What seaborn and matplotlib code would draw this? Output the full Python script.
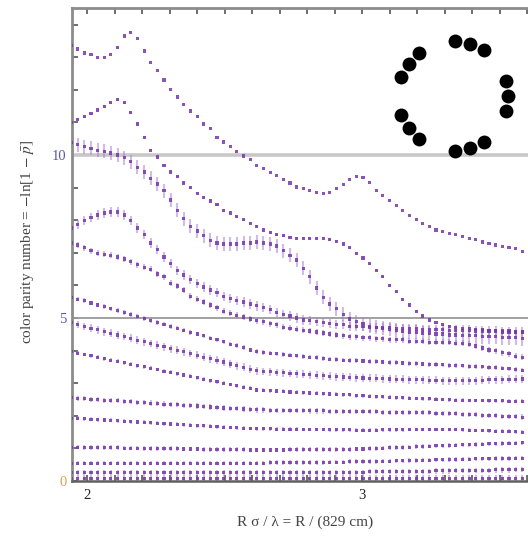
import numpy as np
import pandas as pd
import matplotlib
matplotlib.use("Agg")
import matplotlib.pyplot as plt
from matplotlib.ticker import MultipleLocator
import seaborn as sns

# ---------------- data ----------------
R_cm = np.arange(1610, 2990, 20)          # sampling radii (cm)
x_vals = R_cm / 829.0                      # R sigma / lambda

A = [13.37, 13.25, 13.13, 13.07, 13.00, 13.00, 13.07, 13.31, 13.65, 13.77, 13.56, 13.19, 12.85, 12.58, 12.30, 12.02, 11.78, 11.56, 11.35, 11.17,
     10.95, 10.80, 10.55, 10.40, 10.27, 10.10, 9.97, 9.85, 9.69, 9.58, 9.47, 9.36, 9.25, 9.14, 9.02, 8.96, 8.90, 8.84, 8.83, 8.86,
     8.97, 9.10, 9.24, 9.33, 9.30, 9.15, 8.92, 8.75, 8.60, 8.45, 8.30, 8.15, 8.02, 7.90, 7.80, 7.70, 7.64, 7.60, 7.55, 7.50,
     7.45, 7.40, 7.33, 7.29, 7.24, 7.20, 7.17, 7.12, 7.05]
B = [11.01, 11.10, 11.17, 11.26, 11.38, 11.50, 11.60, 11.69, 11.60, 11.29, 10.95, 10.55, 10.15, 9.94, 9.69, 9.48, 9.33, 9.14, 8.99, 8.83,
     8.71, 8.59, 8.47, 8.31, 8.22, 8.10, 8.01, 7.91, 7.82, 7.70, 7.61, 7.55, 7.52, 7.48, 7.45, 7.45, 7.45, 7.45, 7.45, 7.42,
     7.36, 7.27, 7.15, 6.99, 6.84, 6.66, 6.47, 6.26, 6.01, 5.80, 5.58, 5.40, 5.21, 5.06, 4.94, 4.85, 4.79, 4.75, 4.72, 4.69,
     4.69, 4.66, 4.66, 4.63, 4.63, 4.60, 4.60, 4.57, 4.57]
C = [10.37, 10.31, 10.25, 10.21, 10.15, 10.12, 10.06, 10.00, 9.91, 9.79, 9.63, 9.48, 9.29, 9.11, 8.90, 8.62, 8.31, 8.04, 7.82, 7.67,
     7.52, 7.39, 7.30, 7.27, 7.27, 7.27, 7.30, 7.30, 7.33, 7.30, 7.27, 7.21, 7.06, 6.93, 6.78, 6.53, 6.26, 5.92, 5.64, 5.43,
     5.28, 5.12, 4.97, 4.88, 4.82, 4.75, 4.72, 4.69, 4.66, 4.63, 4.60, 4.57, 4.57, 4.54, 4.54, 4.51, 4.51, 4.48, 4.48, 4.45,
     4.45, 4.45, 4.42, 4.42, 4.42, 4.39, 4.39, 4.39, 4.36]
D = [7.76, 7.88, 7.98, 8.07, 8.16, 8.22, 8.25, 8.25, 8.16, 7.98, 7.76, 7.55, 7.30, 7.09, 6.87, 6.66, 6.47, 6.32, 6.17, 6.07,
     5.95, 5.86, 5.77, 5.67, 5.61, 5.55, 5.49, 5.43, 5.37, 5.31, 5.25, 5.18, 5.12, 5.06, 5.00, 4.94, 4.91, 4.88, 4.85, 4.82,
     4.79, 4.79, 4.75, 4.75, 4.75, 4.72, 4.72, 4.72, 4.72, 4.69, 4.69, 4.69, 4.69, 4.66, 4.66, 4.66, 4.66, 4.63, 4.63, 4.63,
     4.63, 4.60, 4.60, 4.60, 4.60, 4.57, 4.57, 4.57, 4.57]
E = [7.30, 7.24, 7.15, 7.06, 6.99, 6.96, 6.93, 6.87, 6.81, 6.72, 6.63, 6.56, 6.50, 6.35, 6.26, 6.07, 5.98, 5.86, 5.67, 5.58,
     5.49, 5.40, 5.31, 5.21, 5.15, 5.09, 5.03, 4.97, 4.91, 4.88, 4.82, 4.79, 4.72, 4.69, 4.66, 4.63, 4.60, 4.57, 4.54, 4.51,
     4.48, 4.45, 4.42, 4.42, 4.39, 4.39, 4.36, 4.36, 4.33, 4.33, 4.33, 4.29, 4.29, 4.29, 4.26, 4.26, 4.26, 4.26, 4.23, 4.23,
     4.20, 4.14, 4.08, 4.02, 3.99, 3.93, 3.90, 3.83, 3.80]
F = [5.64, 5.58, 5.53, 5.46, 5.40, 5.35, 5.28, 5.23, 5.17, 5.10, 5.05, 4.99, 4.92, 4.87, 4.81, 4.74, 4.69, 4.63, 4.56, 4.51,
     4.45, 4.38, 4.33, 4.27, 4.20, 4.15, 4.09, 4.02, 3.97, 3.94, 3.92, 3.90, 3.88, 3.86, 3.84, 3.82, 3.80, 3.78, 3.76, 3.74,
     3.72, 3.71, 3.70, 3.69, 3.68, 3.67, 3.66, 3.65, 3.64, 3.63, 3.62, 3.61, 3.60, 3.59, 3.58, 3.57, 3.56, 3.55, 3.54, 3.53,
     3.52, 3.51, 3.50, 3.49, 3.48, 3.46, 3.44, 3.42, 3.40]
G = [4.85, 4.80, 4.74, 4.69, 4.64, 4.58, 4.53, 4.48, 4.43, 4.38, 4.32, 4.27, 4.22, 4.17, 4.12, 4.06, 4.01, 3.96, 3.91, 3.86,
     3.80, 3.75, 3.70, 3.65, 3.59, 3.54, 3.49, 3.43, 3.38, 3.36, 3.35, 3.33, 3.32, 3.30, 3.29, 3.27, 3.26, 3.24, 3.23, 3.21,
     3.20, 3.19, 3.18, 3.17, 3.16, 3.15, 3.15, 3.14, 3.13, 3.12, 3.12, 3.11, 3.10, 3.10, 3.09, 3.09, 3.08, 3.08, 3.07, 3.07,
     3.08, 3.08, 3.09, 3.10, 3.10, 3.11, 3.12, 3.12, 3.13]
H = [3.96, 3.92, 3.88, 3.84, 3.79, 3.75, 3.71, 3.67, 3.63, 3.58, 3.54, 3.50, 3.46, 3.42, 3.37, 3.33, 3.29, 3.25, 3.21, 3.17,
     3.12, 3.08, 3.04, 3.00, 2.96, 2.92, 2.88, 2.84, 2.79, 2.78, 2.77, 2.76, 2.75, 2.73, 2.72, 2.71, 2.70, 2.69, 2.68, 2.67,
     2.66, 2.65, 2.64, 2.62, 2.61, 2.60, 2.59, 2.58, 2.57, 2.56, 2.55, 2.54, 2.53, 2.52, 2.52, 2.51, 2.50, 2.49, 2.48, 2.48,
     2.47, 2.47, 2.47, 2.46, 2.46, 2.46, 2.45, 2.45, 2.45]
I = [2.55, 2.54, 2.52, 2.51, 2.50, 2.48, 2.47, 2.46, 2.44, 2.43, 2.42, 2.40, 2.39, 2.38, 2.36, 2.35, 2.34, 2.32, 2.31, 2.30,
     2.28, 2.27, 2.26, 2.24, 2.23, 2.22, 2.21, 2.19, 2.18, 2.18, 2.17, 2.17, 2.17, 2.16, 2.16, 2.16, 2.15, 2.15, 2.15, 2.14,
     2.14, 2.14, 2.13, 2.13, 2.12, 2.12, 2.12, 2.11, 2.11, 2.11, 2.10, 2.10, 2.10, 2.09, 2.09, 2.08, 2.08, 2.07, 2.06, 2.05,
     2.04, 2.03, 2.02, 2.01, 2.00, 1.99, 1.98, 1.97, 1.96]
J = [1.93, 1.92, 1.91, 1.89, 1.88, 1.87, 1.86, 1.85, 1.83, 1.82, 1.81, 1.80, 1.79, 1.77, 1.76, 1.75, 1.74, 1.73, 1.71, 1.70,
     1.69, 1.68, 1.67, 1.65, 1.64, 1.63, 1.62, 1.61, 1.60, 1.60, 1.60, 1.59, 1.59, 1.59, 1.59, 1.58, 1.58, 1.58, 1.58, 1.57,
     1.57, 1.57, 1.57, 1.56, 1.56, 1.56, 1.56, 1.57, 1.57, 1.57, 1.57, 1.58, 1.58, 1.58, 1.58, 1.58, 1.58, 1.58, 1.58, 1.57,
     1.56, 1.55, 1.55, 1.54, 1.53, 1.52, 1.52, 1.51, 1.50]
K = [1.04, 1.04, 1.03, 1.03, 1.03, 1.02, 1.02, 1.02, 1.01, 1.01, 1.01, 1.00, 1.00, 1.00, 0.99, 0.99, 0.99, 0.98, 0.98, 0.98,
     0.97, 0.97, 0.97, 0.96, 0.96, 0.96, 0.96, 0.95, 0.95, 0.95, 0.95, 0.95, 0.95, 0.96, 0.96, 0.96, 0.96, 0.96, 0.97, 0.97,
     0.97, 0.97, 0.97, 0.98, 0.98, 0.99, 1.00, 1.01, 1.02, 1.03, 1.03, 1.04, 1.05, 1.06, 1.07, 1.08, 1.08, 1.09, 1.10, 1.11,
     1.11, 1.12, 1.13, 1.14, 1.14, 1.15, 1.16, 1.16, 1.17]
L = [0.55, 0.55, 0.55, 0.55, 0.55, 0.55, 0.55, 0.55, 0.55, 0.55, 0.55, 0.55, 0.55, 0.55, 0.55, 0.55, 0.55, 0.55, 0.55, 0.55,
     0.55, 0.55, 0.55, 0.55, 0.55, 0.55, 0.55, 0.55, 0.55, 0.55, 0.56, 0.56, 0.56, 0.56, 0.56, 0.57, 0.57, 0.57, 0.57, 0.58,
     0.58, 0.58, 0.59, 0.59, 0.59, 0.60, 0.60, 0.61, 0.61, 0.62, 0.62, 0.63, 0.63, 0.64, 0.64, 0.65, 0.65, 0.66, 0.66, 0.67,
     0.67, 0.68, 0.68, 0.68, 0.69, 0.69, 0.69, 0.70, 0.70]
M = [0.25, 0.25, 0.25, 0.25, 0.25, 0.25, 0.25, 0.25, 0.25, 0.25, 0.25, 0.25, 0.25, 0.25, 0.25, 0.25, 0.25, 0.25, 0.25, 0.25,
     0.25, 0.25, 0.25, 0.25, 0.25, 0.25, 0.25, 0.25, 0.25, 0.25, 0.26, 0.26, 0.26, 0.26, 0.26, 0.26, 0.26, 0.26, 0.26, 0.27,
     0.27, 0.27, 0.27, 0.27, 0.27, 0.28, 0.28, 0.28, 0.28, 0.29, 0.29, 0.29, 0.30, 0.30, 0.30, 0.31, 0.31, 0.31, 0.32, 0.32,
     0.32, 0.33, 0.33, 0.33, 0.34, 0.34, 0.34, 0.35, 0.35]
N = [0.08, 0.08, 0.08, 0.08, 0.08, 0.08, 0.08, 0.08, 0.08, 0.08, 0.08, 0.08, 0.08, 0.08, 0.08, 0.08, 0.08, 0.08, 0.08, 0.08,
     0.08, 0.08, 0.08, 0.08, 0.08, 0.08, 0.08, 0.08, 0.08, 0.08, 0.08, 0.08, 0.08, 0.08, 0.08, 0.08, 0.08, 0.08, 0.08, 0.08,
     0.08, 0.08, 0.08, 0.08, 0.08, 0.08, 0.08, 0.08, 0.08, 0.08, 0.08, 0.08, 0.08, 0.08, 0.08, 0.08, 0.08, 0.08, 0.08, 0.08,
     0.08, 0.08, 0.08, 0.08, 0.08, 0.08, 0.08, 0.08, 0.08]

series_names = ["A", "B", "C", "D", "E", "F", "G", "H", "I", "J", "K", "L", "M", "N"]
series_vals = [A, B, C, D, E, F, G, H, I, J, K, L, M, N]
series_err = [0.0, 0.03, 0.22, 0.14, 0.10, 0.07, 0.12, 0.06, 0.08, 0.06, 0.07, 0.07, 0.08, 0.10]

y_ticks = [0, 5, 10]
y_tick_labels = ["0", "5", "10"]
x_ticks = [2, 3]
x_tick_labels = ["2", "3"]
ref_levels = [10, 5]

# inset ring: 5 groups of 3 beads
group_angles = [144, 72, 0, -72, -144]
bead_offsets = [-16, 0, 16]

# ---------------- build frame ----------------
rows = []
for name, vals, err in zip(series_names, series_vals, series_err):
    for xv, yv in zip(x_vals, vals):
        rows.append((name, xv, yv, err))
df = pd.DataFrame(rows, columns=["series", "x", "y", "err"])

# ---------------- style ----------------
sns.set_theme(style="white")
plt.rcParams["font.family"] = ["Liberation Serif", "DejaVu Serif"]
plt.rcParams["mathtext.fontset"] = "stix"

W, H = 528, 536
fig = plt.figure(figsize=(W / 100, H / 100), dpi=100)
ax_left, ax_right, ax_top, ax_bot = 72, 528, 8, 481
ax = fig.add_axes([ax_left / W, 1 - ax_bot / H, (ax_right - ax_left) / W, (ax_bot - ax_top) / H])

purple = "#7636ae"
bar_col = "#a57ad0"

for lvl, col, lw in zip(ref_levels, ["#c8c8c8", "#9a9a9a"], [2.6, 1.3]):
    ax.axhline(lvl, color=col, lw=lw, zorder=1)

err_df = df[df["err"] > 0]
ax.errorbar(err_df["x"], err_df["y"], yerr=err_df["err"], fmt="none",
            ecolor=bar_col, elinewidth=1.5, alpha=0.5, capsize=0, zorder=2)

sns.scatterplot(data=df, x="x", y="y", hue="series",
                palette=[purple] * len(series_names), marker="s", s=5,
                linewidth=0, alpha=0.85, legend=False, ax=ax, zorder=3)

x_px_per_unit = 275.0
ax.set_xlim(2 - (87 - ax_left) / x_px_per_unit, 2 + (ax_right - 87) / x_px_per_unit)
y_px_per_unit = 32.6
ax.set_ylim(0 - (ax_bot - 481) / y_px_per_unit, (ax_bot - ax_top) / y_px_per_unit)

ax.set_xticks(x_ticks)
ax.set_xticklabels(x_tick_labels)
ax.set_yticks(y_ticks)
ax.set_yticklabels(y_tick_labels)
ax.xaxis.set_minor_locator(MultipleLocator(0.1))
ax.yaxis.set_minor_locator(MultipleLocator(1))
ax.tick_params(axis="x", which="both", direction="in", top=True, bottom=True,
               length=4, width=1.2, color="#555555", labelsize=10.5, pad=6, labelcolor="#222222")
ax.tick_params(axis="y", which="both", direction="in", left=True, right=False,
               length=4, width=1.2, color="#555555", labelsize=10.5, pad=4)
for lab, c in zip(ax.get_yticklabels(), ["#e0a050", "#5a5aa8", "#5a5aa8"]):
    lab.set_color(c)

for s in ["left", "top"]:
    ax.spines[s].set_color("#8c8c8c")
    ax.spines[s].set_linewidth(2.0)
ax.spines["bottom"].set_color("#606060")
ax.spines["bottom"].set_linewidth(1.8)
ax.spines["right"].set_visible(False)

ax.set_xlabel("R σ / λ = R / (829 cm)", fontsize=11, color="#444444")
ax.set_ylabel(r"color parity number = $-$ln[1 $-$ $\bar{p}$]", fontsize=11, color="#444444")
ax.xaxis.set_label_coords((305 - ax_left) / (ax_right - ax_left), -(522 - ax_bot) / (ax_bot - ax_top))
ax.yaxis.set_label_coords(-(ax_left - 28) / (ax_right - ax_left), (ax_bot - 242) / (ax_bot - ax_top))
ax.xaxis.label.set_verticalalignment("center")
ax.yaxis.label.set_verticalalignment("center")

# inset ring of beads
cx, cy, size = 453, 96, 143
ax_in = fig.add_axes([(cx - size / 2) / W, 1 - (cy + size / 2) / H, size / W, size / H])
ax_in.set_xlim(-1.3, 1.3)
ax_in.set_ylim(-1.3, 1.3)
ax_in.set_aspect("equal")
ax_in.axis("off")
ang = np.deg2rad(np.array([g + o for g in group_angles for o in bead_offsets]))
ring = pd.DataFrame({"bx": np.cos(ang), "by": np.sin(ang)})
sns.scatterplot(data=ring, x="bx", y="by", color="black", s=100, linewidth=0, ax=ax_in, legend=False)

fig.savefig("out.png", dpi=100)
